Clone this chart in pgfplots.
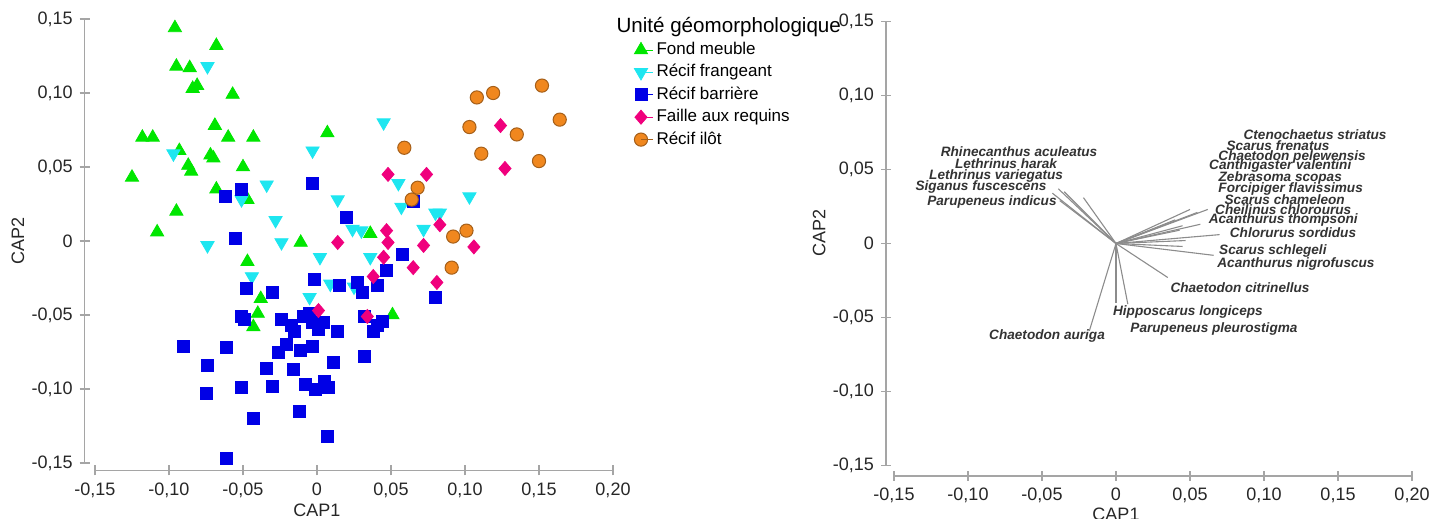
\documentclass[border=0pt]{standalone}
\usepackage{fontspec}
\setmainfont{Liberation Sans}
\setsansfont{Liberation Sans}
\usepackage{pgfplots}
\pgfplotsset{compat=1.18}

\definecolor{cgreen}{RGB}{0,230,0}
\definecolor{ccyan}{RGB}{30,230,240}
\definecolor{cblue}{RGB}{0,0,230}
\definecolor{cpink}{RGB}{240,0,125}
\definecolor{corange}{RGB}{240,135,30}
\definecolor{cbrown}{RGB}{165,95,25}
\definecolor{axgray}{RGB}{165,165,165}

\pgfplotsset{
 capaxis/.style={
  x=740pt, y=740pt, clip=false,
  axis lines*=left, axis line style={draw=none},
  tick align=center, major tick length=5pt,
  tick style={axgray, line width=0.8pt},
  xtick={-0.15,-0.1,-0.05,0,0.05,0.1,0.15,0.2},
  xticklabels={{-0,15},{-0,10},{-0,05},0,{0,05},{0,10},{0,15},{0,20}},
  ytick={-0.15,-0.1,-0.05,0,0.05,0.1,0.15},
  yticklabels={{-0,15},{-0,10},{-0,05},0,{0,05},{0,10},{0,15}},
  ticklabel style={font=\fontsize{9}{10}\selectfont, text=black!85},
  label style={font=\fontsize{9}{10}\selectfont, text=black!85, inner sep=0pt},
  xmax=0.2, ymax=0.15,
 }
}

\begin{document}
\begin{tikzpicture}
\path[use as bounding box] (0,0) rectangle (716pt,-259.5pt);

% ---------------- left: samples ----------------
\begin{axis}[capaxis,
  at={(158.5pt,-120.5pt)}, anchor=origin,
  xmin=-0.157, ymin=-0.155,
  xlabel={CAP1}, ylabel={CAP2},
  xlabel style={at={(axis cs:0,-0.155)}, anchor=north, yshift=-16.5pt},
  ylabel style={at={(axis cs:-0.157,0)}, anchor=south, yshift=30pt},
  legend style={at={(axis description cs:1,1)}, anchor=north west,
    xshift=10.5pt, yshift=1.5pt, draw=none, fill=none, inner sep=0pt,
    row sep=0pt, font=\fontsize{8.5}{10}\selectfont,
    nodes={inner sep=1.5pt, text height=6.4pt, text depth=1.8pt}},
  legend cell align=left,
  legend image code/.code={\draw[#1] plot coordinates {(0pt,0pt)};\path (0pt,0pt) -- (6pt,0pt);},
]
\draw[axgray, line width=0.8pt] (axis cs:-0.15,-0.155) -- (axis cs:0.2,-0.155);
\draw[axgray, line width=0.8pt] (axis cs:-0.157,-0.15) -- (axis cs:-0.157,0.15);

\addlegendimage{empty legend}
\addlegendentry[font=\fontsize{10.3}{11}\selectfont]{\hspace*{-20pt}Unité géomorphologique}

\addplot[only marks, mark=triangle*, mark size=3.8pt, color=cgreen] coordinates {
(-0.096,0.144) (-0.068,0.132) (-0.095,0.118) (-0.086,0.117) (-0.084,0.103)
(-0.081,0.105) (-0.057,0.099) (-0.069,0.078) (-0.118,0.070) (-0.111,0.070)
(-0.060,0.070) (-0.043,0.070) (0.007,0.073) (-0.093,0.061) (-0.072,0.058)
(-0.070,0.056) (-0.087,0.051) (-0.085,0.047) (-0.050,0.050) (-0.125,0.043)
(-0.068,0.035) (-0.047,0.028) (-0.095,0.020) (-0.108,0.006) (-0.011,-0.001)
(0.036,0.005) (-0.047,-0.014) (-0.038,-0.039) (-0.040,-0.049) (-0.043,-0.058)
(0.051,-0.050)};
\addlegendentry{Fond meuble}

\addplot[only marks, mark=triangle*, mark size=3.8pt, mark options={rotate=180}, color=ccyan] coordinates {
(-0.074,0.118) (-0.097,0.059) (-0.003,0.061) (-0.034,0.038) (-0.051,0.028)
(0.014,0.028) (-0.028,0.014) (0.024,0.008) (0.030,0.007) (-0.074,-0.003)
(-0.024,-0.001) (0.002,-0.011) (0.045,0.080) (0.055,0.039) (0.057,0.023)
(0.103,0.030) (0.080,0.019) (0.083,0.019) (0.072,0.008) (0.036,-0.011)
(-0.044,-0.024) (-0.005,-0.038) (0.009,-0.029) (0.025,-0.031)};
\addlegendentry{Récif frangeant}

\addplot[only marks, mark=square*, mark size=3pt, color=cblue] coordinates {
(-0.051,0.035) (-0.062,0.030) (-0.003,0.039) (0.020,0.016) (-0.055,0.002)
(0.065,0.027) (0.058,-0.009) (0.047,-0.020) (-0.002,-0.026) (0.015,-0.030)
(0.027,-0.028) (0.031,-0.035) (0.041,-0.030) (0.080,-0.038) (-0.048,-0.032)
(-0.030,-0.035) (-0.051,-0.051) (-0.049,-0.053) (-0.024,-0.053) (-0.017,-0.057)
(-0.015,-0.061) (-0.009,-0.051) (-0.005,-0.049) (-0.003,-0.055) (0.004,-0.055)
(0.001,-0.060) (0.014,-0.061) (0.032,-0.051) (0.044,-0.054) (0.041,-0.057)
(0.038,-0.061) (-0.090,-0.071) (-0.061,-0.072) (-0.021,-0.070) (-0.026,-0.075)
(-0.011,-0.074) (-0.003,-0.071) (0.011,-0.082) (0.032,-0.078) (-0.074,-0.084)
(-0.034,-0.086) (-0.016,-0.087) (-0.051,-0.099) (-0.030,-0.098) (-0.075,-0.103)
(-0.008,-0.097) (-0.001,-0.100) (0.005,-0.095) (0.008,-0.099) (-0.043,-0.120)
(-0.012,-0.115) (0.007,-0.132) (-0.061,-0.147)};
\addlegendentry{Récif barrière}

\addplot[only marks, mark=diamond*, mark size=3.5pt, mark options={xscale=1.15}, color=cpink] coordinates {
(0.124,0.078) (0.127,0.049) (0.048,0.045) (0.074,0.045) (0.083,0.011)
(0.047,0.007) (0.014,-0.001) (0.048,-0.001) (0.072,-0.003) (0.106,-0.004)
(0.045,-0.011) (0.065,-0.018) (0.038,-0.024) (0.081,-0.028) (0.001,-0.047)
(0.034,-0.051)};
\addlegendentry{Faille aux requins}

\addplot[only marks, mark=*, mark size=3.3pt, draw=cbrown, fill=corange, line width=0.5pt] coordinates {
(0.152,0.105) (0.108,0.097) (0.119,0.100) (0.164,0.082) (0.103,0.077)
(0.135,0.072) (0.111,0.059) (0.150,0.054) (0.059,0.063) (0.068,0.036)
(0.064,0.028) (0.101,0.007) (0.092,0.003) (0.091,-0.018)};
\addlegendentry{Récif ilôt}
\end{axis}

% ---------------- right: species vectors ----------------
\begin{axis}[capaxis,
  at={(558pt,-121.75pt)}, anchor=origin,
  xmin=-0.1554, ymin=-0.157,
  xlabel={CAP1}, ylabel={CAP2},
  xlabel style={at={(axis cs:0,-0.157)}, anchor=north, yshift=-16pt},
  ylabel style={at={(axis cs:-0.1554,0.007)}, anchor=south, yshift=30pt},
]
\draw[axgray, line width=0.8pt] (axis cs:-0.15,-0.157) -- (axis cs:0.2,-0.157);
\draw[axgray, line width=0.8pt] (axis cs:-0.1554,-0.15) -- (axis cs:-0.1554,0.15);

\addplot[black!45, line width=0.55pt, no markers,
  quiver={u=\thisrow{u}, v=\thisrow{v}}] table {
x y u v
0 0 -0.039 0.037
0 0 -0.043 0.034
0 0 -0.022 0.031
0 0 -0.038 0.029
0 0 -0.035 0.035
0 0 -0.018 -0.059
0 0 0.000 -0.040
0 0 0.008 -0.041
0 0 0.035 -0.023
0 0 0.062 0.023
0 0 0.050 0.023
0 0 0.055 0.021
0 0 0.057 0.013
0 0 0.045 0.012
0 0 0.043 0.009
0 0 0.070 0.006
0 0 0.047 0.002
0 0 0.045 -0.002
0 0 0.066 -0.008
0 0 0.040 0.016
};

\begin{scope}[every node/.style={font=\fontsize{6.8}{7}\selectfont\bfseries\itshape, text=black!80, inner sep=0pt}]
\node at (axis cs:0.1345,0.0735) {Ctenochaetus striatus};
\node at (axis cs:0.1095,0.0660) {Scarus frenatus};
\node at (axis cs:0.1190,0.0586) {Chaetodon pelewensis};
\node at (axis cs:0.1110,0.0525) {Canthigaster valentini};
\node at (axis cs:0.1110,0.0443) {Zebrasoma scopas};
\node at (axis cs:0.1180,0.0369) {Forcipiger flavissimus};
\node at (axis cs:0.1140,0.0295) {Scarus chameleon};
\node at (axis cs:0.1130,0.0227) {Cheilinus chlorourus};
\node at (axis cs:0.1130,0.0159) {Acanthurus thompsoni};
\node at (axis cs:0.1196,0.0071) {Chlorurus sordidus};
\node at (axis cs:0.1060,-0.0051) {Scarus schlegeli};
\node at (axis cs:0.1216,-0.0139) {Acanthurus nigrofuscus};
\node at (axis cs:0.0838,-0.0295) {Chaetodon citrinellus};
\node at (axis cs:0.0486,-0.0464) {Hipposcarus longiceps};
\node at (axis cs:0.0662,-0.0579) {Parupeneus pleurostigma};
\node at (axis cs:-0.0466,-0.0626) {Chaetodon auriga};
\node at (axis cs:-0.0655,0.0620) {Rhinecanthus aculeatus};
\node at (axis cs:-0.0743,0.0538) {Lethrinus harak};
\node at (axis cs:-0.0810,0.0457) {Lethrinus variegatus};
\node at (axis cs:-0.0912,0.0383) {Siganus fuscescens};
\node at (axis cs:-0.0838,0.0281) {Parupeneus indicus};
\end{scope}
\end{axis}
\end{tikzpicture}
\end{document}
